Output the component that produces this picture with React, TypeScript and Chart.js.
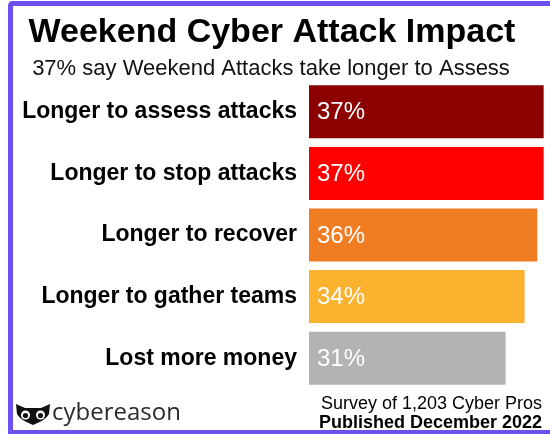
import React, { useEffect, useRef } from "react";
import { Chart, registerables } from "chart.js";

Chart.register(...registerables);

const titleText = "Weekend Cyber Attack Impact";
const subtitleText = "37% say Weekend Attacks take longer to Assess";
const categories = [
  "Longer to assess attacks",
  "Longer to stop attacks",
  "Longer to recover",
  "Longer to gather teams",
  "Lost more money",
];
const values = [37, 37, 36, 34, 31];
const footerLine1 = "Survey of 1,203 Cyber Pros";
const footerLine2 = "Published December 2022";
const brandText = "cybereason";
const barColors = ["#8c0000", "#ff0000", "#f07d22", "#fbb22e", "#b3b3b3"];

const FONT = '"Liberation Sans", Arial, Helvetica, sans-serif';

const decorPlugin = {
  id: "decor",
  beforeDraw(chart: any) {
    const ctx = chart.ctx;
    ctx.save();
    ctx.fillStyle = "#ffffff";
    ctx.fillRect(0, 0, chart.width, chart.height);
    ctx.restore();
  },
  afterDraw(chart: any) {
    const ctx = chart.ctx;
    ctx.save();
    // frame
    ctx.fillStyle = "#6e4ff2";
    ctx.fillRect(12, 1, 538, 5);
    ctx.fillRect(8, 5, 5, 429);
    ctx.fillRect(8, 430, 542, 4);
    ctx.beginPath();
    ctx.moveTo(8, 6);
    ctx.quadraticCurveTo(8, 1, 13, 1);
    ctx.lineTo(13, 6);
    ctx.closePath();
    ctx.fill();

    // title
    ctx.fillStyle = "#000000";
    ctx.textAlign = "center";
    ctx.textBaseline = "alphabetic";
    ctx.font = `bold 34px ${FONT}`;
    ctx.fillText(titleText, 272, 42);
    ctx.font = `22px ${FONT}`;
    ctx.fillStyle = "#111111";
    ctx.fillText(subtitleText, 271, 75);

    // value labels
    const meta = chart.getDatasetMeta(0);
    ctx.font = `24px ${FONT}`;
    ctx.fillStyle = "#ffffff";
    ctx.textAlign = "left";
    ctx.textBaseline = "middle";
    meta.data.forEach((bar: any, i: number) => {
      ctx.fillText(values[i] + "%", bar.base + 8, bar.y + 1);
    });

    // footer
    ctx.fillStyle = "#000000";
    ctx.textAlign = "right";
    ctx.textBaseline = "alphabetic";
    ctx.font = `18px ${FONT}`;
    ctx.fillText(footerLine1, 542, 409);
    ctx.font = `bold 18px ${FONT}`;
    ctx.fillText(footerLine2, 542, 428);

    // logo owl
    const ox = 16;
    const oy = 404;
    ctx.fillStyle = "#111111";
    ctx.beginPath();
    ctx.moveTo(ox, oy);
    ctx.lineTo(ox + 9, oy + 4);
    ctx.lineTo(ox + 25, oy + 4);
    ctx.lineTo(ox + 34, oy);
    ctx.lineTo(ox + 33, oy + 10);
    ctx.quadraticCurveTo(ox + 30, oy + 16, ox + 17, oy + 21);
    ctx.quadraticCurveTo(ox + 4, oy + 16, ox + 1, oy + 10);
    ctx.closePath();
    ctx.fill();
    ctx.fillStyle = "#ffffff";
    [ox + 9.5, ox + 24.5].forEach((cx) => {
      ctx.beginPath();
      ctx.arc(cx, oy + 11, 4.5, 0, Math.PI * 2);
      ctx.fill();
    });
    ctx.fillStyle = "#111111";
    [ox + 9.5, ox + 24.5].forEach((cx) => {
      ctx.beginPath();
      ctx.arc(cx, oy + 11.5, 2.6, 0, Math.PI * 2);
      ctx.fill();
    });
    ctx.textAlign = "left";
    ctx.fillStyle = "#2a2a2a";
    ctx.font = `24px "Open Sans", ${FONT}`;
    ctx.fillText(brandText, 52, 420);
    ctx.restore();
  },
};

export default function App() {
  const canvasRef = useRef<HTMLCanvasElement | null>(null);

  useEffect(() => {
    const canvas = canvasRef.current;
    if (!canvas) return;
    const chart = new Chart(canvas, {
      type: "bar",
      data: {
        labels: categories,
        datasets: [
          {
            data: values,
            backgroundColor: barColors,
            borderWidth: 0,
            barPercentage: 1,
            categoryPercentage: 0.86,
          },
        ],
      },
      options: {
        indexAxis: "y",
        responsive: false,
        animation: false,
        events: [],
        layout: { padding: { top: 81, bottom: 45, left: 0, right: 0 } },
        plugins: {
          legend: { display: false },
          tooltip: { enabled: false },
          title: { display: false },
        },
        scales: {
          x: {
            display: false,
            min: 0,
            max: 38,
          },
          y: {
            grid: { display: false, drawTicks: false },
            border: { display: false },
            ticks: {
              padding: 12,
              color: "#000000",
              font: { family: FONT, size: 23, weight: "bold" },
            },
            afterFit: (scale: any) => {
              scale.width = 309;
            },
          },
        },
      },
      plugins: [decorPlugin],
    });
    return () => chart.destroy();
  }, []);

  return (
    <div style={{ position: "absolute", left: 0, top: 0, width: 550, height: 434 }}>
      <canvas ref={canvasRef} width={550} height={434} style={{ display: "block" }} />
    </div>
  );
}
